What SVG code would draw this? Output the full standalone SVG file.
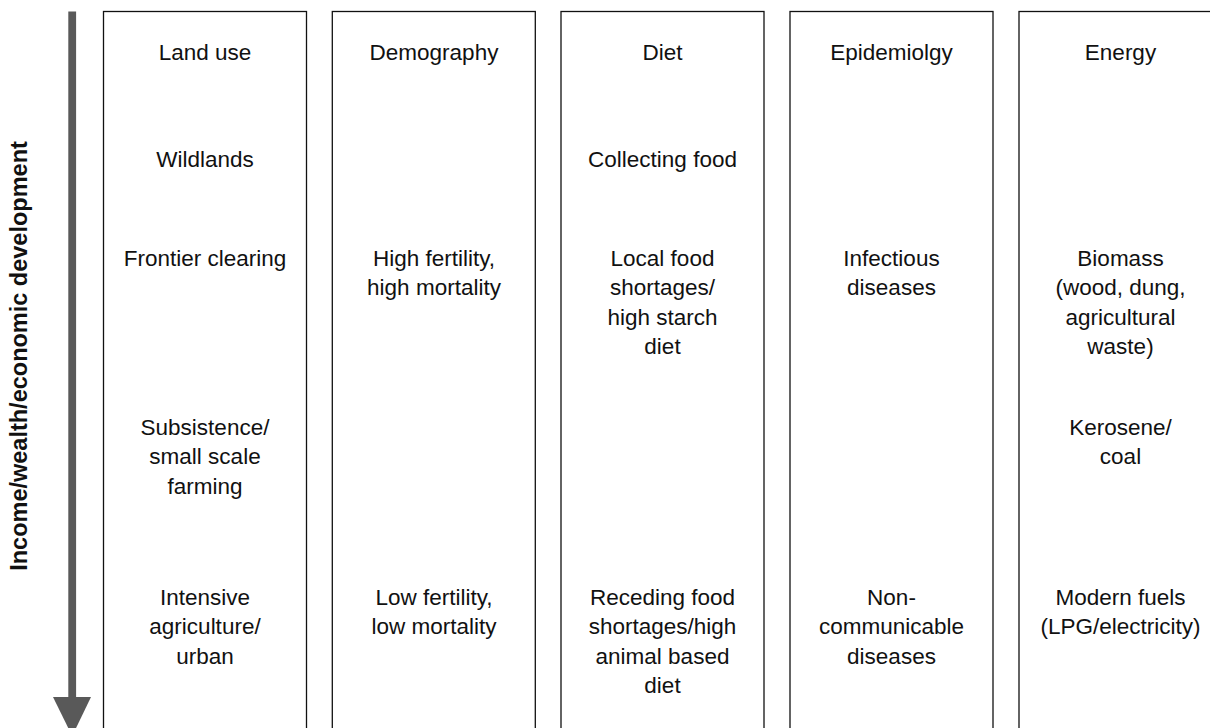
<svg xmlns="http://www.w3.org/2000/svg" width="1210" height="728" viewBox="0 0 1210 728">
<style>
.box{fill:#fff;stroke:#111;stroke-width:1.3}
.t{font-family:"Liberation Sans",Arial,sans-serif;font-size:22.5px;fill:#111;text-anchor:middle}
.ax{font-family:"Liberation Sans",Arial,sans-serif;font-size:23.5px;font-weight:bold;fill:#111;text-anchor:middle}
</style>
<rect width="1210" height="728" fill="#fff"/>
<g id="axis">
<rect x="68.3" y="11.5" width="7.8" height="688" fill="#595959"/>
<polygon points="53,697 91,697 72.2,736" fill="#595959"/>
<text class="ax" transform="translate(27,356) rotate(-90)">Income/wealth/economic development</text>
</g>
<g id="land-use">
<rect class="box" x="103.5" y="11.5" width="203" height="730"/>
<text class="t" x="205" y="60">Land use</text>
<text class="t" x="205" y="167">Wildlands</text>
<text class="t" x="205" y="266">Frontier clearing</text>
<text class="t" x="205" y="435">Subsistence/<tspan x="205" dy="29.3">small scale</tspan><tspan x="205" dy="29.3">farming</tspan></text>
<text class="t" x="205" y="605">Intensive<tspan x="205" dy="29.3">agriculture/</tspan><tspan x="205" dy="29.3">urban</tspan></text>
</g>
<g id="demography">
<rect class="box" x="332.3" y="11.5" width="203" height="730"/>
<text class="t" x="434" y="60">Demography</text>
<text class="t" x="434" y="266">High fertility,<tspan x="434" dy="29.3">high mortality</tspan></text>
<text class="t" x="434" y="605">Low fertility,<tspan x="434" dy="29.3">low mortality</tspan></text>
</g>
<g id="diet">
<rect class="box" x="561" y="11.5" width="203" height="730"/>
<text class="t" x="662.5" y="60">Diet</text>
<text class="t" x="662.5" y="167">Collecting food</text>
<text class="t" x="662.5" y="266">Local food<tspan x="662.5" dy="29.3">shortages/</tspan><tspan x="662.5" dy="29.3">high starch</tspan><tspan x="662.5" dy="29.3">diet</tspan></text>
<text class="t" x="662.5" y="605">Receding food<tspan x="662.5" dy="29.3">shortages/high</tspan><tspan x="662.5" dy="29.3">animal based</tspan><tspan x="662.5" dy="29.3">diet</tspan></text>
</g>
<g id="epidemiology">
<rect class="box" x="790" y="11.5" width="203" height="730"/>
<text class="t" x="891.5" y="60">Epidemiolgy</text>
<text class="t" x="891.5" y="266">Infectious<tspan x="891.5" dy="29.3">diseases</tspan></text>
<text class="t" x="891.5" y="605">Non-<tspan x="891.5" dy="29.3">communicable</tspan><tspan x="891.5" dy="29.3">diseases</tspan></text>
</g>
<g id="energy">
<rect class="box" x="1019" y="11.5" width="203" height="730"/>
<text class="t" x="1120.5" y="60">Energy</text>
<text class="t" x="1120.5" y="266">Biomass<tspan x="1120.5" dy="29.3">(wood, dung,</tspan><tspan x="1120.5" dy="29.3">agricultural</tspan><tspan x="1120.5" dy="29.3">waste)</tspan></text>
<text class="t" x="1120.5" y="435">Kerosene/<tspan x="1120.5" dy="29.3">coal</tspan></text>
<text class="t" x="1120.5" y="605">Modern fuels<tspan x="1120.5" dy="29.3">(LPG/electricity)</tspan></text>
</g>
<g id="connectors"></g>
</svg>
